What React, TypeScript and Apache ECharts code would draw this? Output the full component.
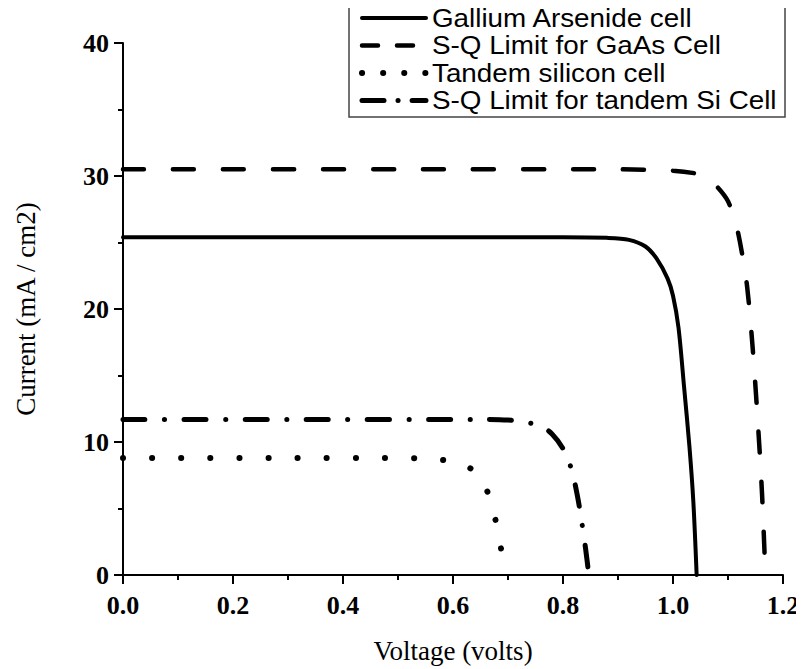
import React, { useEffect, useRef } from "react";
import * as echarts from "echarts";

const seriesNames = [
  "Gallium Arsenide cell",
  "S-Q Limit for GaAs Cell",
  "Tandem silicon cell",
  "S-Q Limit for tandem Si Cell",
];

const gaasCell: [number, number][] = [
  [0, 25.4], [0.5, 25.4], [0.8, 25.4], [0.88, 25.35], [0.92, 25.2], [0.95, 24.7],
  [0.97, 23.8], [0.99, 22.3], [1.0, 21.0], [1.01, 18.6], [1.02, 14.2],
  [1.03, 9.6], [1.037, 5.5], [1.043, 0],
];

const sqGaas: [number, number][] = [
  [0, 30.5], [0.5, 30.5], [0.9, 30.5], [1.0, 30.4], [1.04, 30.2], [1.06, 29.9],
  [1.08, 29.2], [1.1, 28.1], [1.115, 26.3], [1.125, 24.3], [1.135, 21.6],
  [1.145, 17.0], [1.155, 11.0], [1.162, 6.0], [1.168, 0],
];

const tandemSi: [number, number][] = [
  [0, 8.8], [0.3, 8.8], [0.5, 8.8], [0.55, 8.75], [0.6, 8.55], [0.625, 8.2],
  [0.645, 7.5], [0.66, 6.5], [0.67, 5.4], [0.68, 3.6], [0.688, 1.8], [0.693, 0],
];

const sqTandemSi: [number, number][] = [
  [0, 11.7], [0.3, 11.7], [0.65, 11.7], [0.7, 11.65], [0.73, 11.5], [0.76, 11.2],
  [0.78, 10.6], [0.8, 9.5], [0.815, 8.0], [0.826, 6.0], [0.834, 4.0],
  [0.841, 2.0], [0.847, 0],
];

const xTicks = [0, 0.2, 0.4, 0.6, 0.8, 1.0, 1.2];
const yTicks = [0, 10, 20, 30, 40];

const serif = "'Liberation Serif', 'Times New Roman', serif";
const sans = "'Liberation Sans', Arial, sans-serif";

const styles = [
  { width: 4, type: "solid" as any, cap: "round" },
  { width: 4.5, type: [21, 29] as any, cap: "round" },
  { width: 6, type: [0.1, 29] as any, cap: "round" },
  { width: 5, type: [22, 19.5, 0.1, 19.5] as any, cap: "round" },
];

const legendDash = [
  "solid" as any,
  [16, 19] as any,
  [0.1, 21] as any,
  [22, 14, 0.1, 14] as any,
];

export default function App() {
  const ref = useRef<HTMLDivElement>(null);
  useEffect(() => {
    if (!ref.current) return;
    const chart = echarts.init(ref.current, undefined, { renderer: "svg" });
    const data = [gaasCell, sqGaas, tandemSi, sqTandemSi];
    const legendX = 362;
    const legendY0 = 18;
    const legendStep = 27.5;
    const graphics: any[] = [
      {
        type: "rect",
        shape: { x: 349, y: 1, width: 436, height: 116 },
        style: { fill: "#fff", stroke: "#444", lineWidth: 1.5 },
        z: 10,
      },
    ];
    seriesNames.forEach((n, i) => {
      const y = legendY0 + i * legendStep;
      graphics.push({
        type: "line",
        shape: { x1: legendX, y1: y, x2: legendX + 64, y2: y },
        style: {
          stroke: "#000",
          lineWidth: styles[i].width,
          lineDash: legendDash[i] === "solid" ? null : legendDash[i],
          lineCap: "round",
        },
        z: 11,
      });
      graphics.push({
        type: "text",
        x: legendX + 70,
        y,
        scaleX: 1.07,
        scaleY: 1.0,
        style: {
          text: n,
          fill: "#000",
          font: `26px ${sans}`,
          lineHeight: 26,
          textVerticalAlign: "middle",
          verticalAlign: "middle",
        },
        z: 11,
      });
    });
    chart.setOption({
      animation: false,
      backgroundColor: "#fff",
      grid: { left: 123, right: 21, top: 43, bottom: 94, containLabel: false },
      xAxis: {
        type: "value",
        min: 0,
        max: 1.2,
        interval: 0.2,
        name: "Voltage (volts)",
        nameLocation: "middle",
        nameGap: 62,
        nameTextStyle: { fontFamily: serif, fontSize: 27, color: "#000" },
        axisLine: { onZero: false, lineStyle: { color: "#000", width: 2 } },
        axisTick: { inside: false, length: 9, lineStyle: { color: "#000", width: 2 } },
        minorTick: { show: true, splitNumber: 2, length: 5, lineStyle: { color: "#000", width: 2 } },
        splitLine: { show: false },
        axisLabel: {
          margin: 17,
          fontFamily: serif,
          fontWeight: "bold",
          fontSize: 26,
          color: "#000",
          formatter: (v: number) => (xTicks.some((t) => Math.abs(t - v) < 1e-9) ? v.toFixed(1) : ""),
        },
      },
      yAxis: {
        type: "value",
        min: 0,
        max: 40,
        interval: 10,
        name: "Current (mA / cm2)",
        nameLocation: "middle",
        nameGap: 84,
        nameTextStyle: { fontFamily: serif, fontSize: 27, color: "#000" },
        axisLine: { show: true, onZero: false, lineStyle: { color: "#000", width: 2 } },
        axisTick: { show: true, inside: false, length: 9, lineStyle: { color: "#000", width: 2 } },
        minorTick: { show: true, splitNumber: 2, length: 5, lineStyle: { color: "#000", width: 2 } },
        splitLine: { show: false },
        axisLabel: {
          margin: 14,
          fontFamily: serif,
          fontWeight: "bold",
          fontSize: 26,
          color: "#000",
          formatter: (v: number) => (yTicks.includes(v) ? String(v) : ""),
        },
      },
      series: data.map((d, i) => ({
        name: seriesNames[i],
        type: "line",
        data: d,
        showSymbol: false,
        symbol: "none",
        smooth: 0.3,
        lineStyle: {
          color: "#000",
          width: styles[i].width,
          type: styles[i].type,
          cap: styles[i].cap,
        },
        z: 3,
      })),
      graphic: graphics,
    });
    return () => chart.dispose();
  }, []);
  return <div ref={ref} style={{ width: 804, height: 669, marginLeft: -8, marginTop: -8 }} />;
}
